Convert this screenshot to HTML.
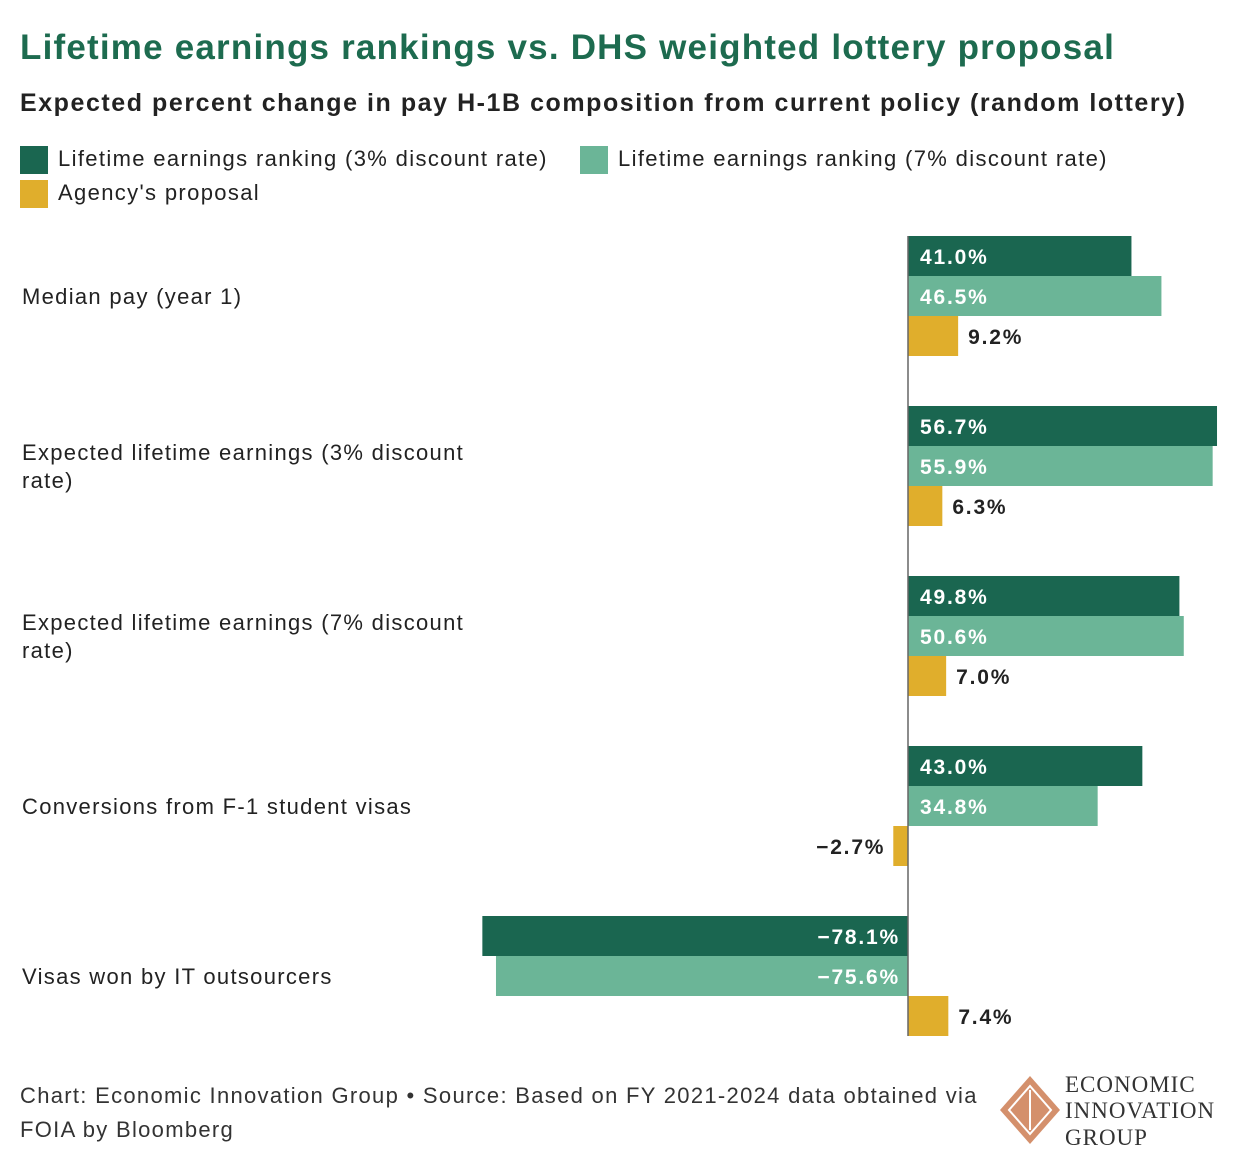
<!DOCTYPE html>
<html><head><meta charset="utf-8"><style>
body{margin:0;background:#fff;font-family:"Liberation Sans",sans-serif;color:#222}
#wrap{position:relative;width:1240px;height:1166px;overflow:hidden}
.t{position:absolute;white-space:nowrap}
</style></head><body><div id="wrap">
<div class="t" style="left:20px;top:28px;font-size:35px;font-weight:bold;color:#1d6b4f;letter-spacing:1.2px">Lifetime earnings rankings vs. DHS weighted lottery proposal</div>
<div class="t" style="left:20px;top:89px;font-size:25px;font-weight:bold;color:#222;letter-spacing:1.55px">Expected percent change in pay H-1B composition from current policy (random lottery)</div>
<div style="letter-spacing:1.35px">
<div class="t" style="left:20px;top:146px;font-size:22px"><span style="display:inline-block;width:28px;height:28px;background:#1a6650;vertical-align:middle;margin-right:10px"></span>Lifetime earnings ranking (3% discount rate)</div>
<div class="t" style="left:580px;top:146px;font-size:22px"><span style="display:inline-block;width:28px;height:28px;background:#6bb597;vertical-align:middle;margin-right:10px"></span>Lifetime earnings ranking (7% discount rate)</div>
<div class="t" style="left:20px;top:180px;font-size:22px"><span style="display:inline-block;width:28px;height:28px;background:#e0ae2c;vertical-align:middle;margin-right:10px"></span>Agency's proposal</div>
</div>
<svg id="plot" width="1240" height="1166" style="position:absolute;left:0;top:0"></svg>
<div class="t" style="left:20px;top:1079px;font-size:22px;line-height:34px;color:#333;letter-spacing:1.3px">Chart: Economic Innovation Group • Source: Based on FY 2021-2024 data obtained via<br>FOIA by Bloomberg</div>
<svg width="240" height="90" style="position:absolute;left:995px;top:1068px">
<polygon points="35,8 65,42 35,76 5,42" fill="#d4906c"/>
<polygon points="35,18 56,42 35,66 14,42" fill="none" stroke="#fff" stroke-width="2"/>
<line x1="35" y1="22" x2="35" y2="62" stroke="#fff" stroke-width="2"/>
<text x="70" y="24" font-family="Liberation Serif,serif" font-size="23" fill="#333" letter-spacing="1">ECONOMIC</text>
<text x="70" y="50" font-family="Liberation Serif,serif" font-size="23" fill="#333" letter-spacing="1">INNOVATION</text>
<text x="70" y="77" font-family="Liberation Serif,serif" font-size="23" fill="#333" letter-spacing="1">GROUP</text>
</svg>
</div>
<script>
const categories=[["Median pay (year 1)"],["Expected lifetime earnings (3% discount","rate)"],["Expected lifetime earnings (7% discount","rate)"],["Conversions from F-1 student visas"],["Visas won by IT outsourcers"]];
const rank3=[41.0,56.7,49.8,43.0,-78.1];
const rank7=[46.5,55.9,50.6,34.8,-75.6];
const agency=[9.2,6.3,7.0,-2.7,7.4];
const seriesNames=["rank3","rank7","agency"];
const NS="http://www.w3.org/2000/svg";
const svg=document.getElementById('plot');
const x0=908,scale=5.45;
function xs(v){return x0+v*scale;}
const groupTop=236,groupStep=170,barH=40;
const colors=["#1a6650","#6bb597","#e0ae2c"];
const series=[rank3,rank7,agency];
categories.forEach((cat,i)=>{
  const gy=groupTop+i*groupStep;
  const t=document.createElementNS(NS,'text');
  
  
  t.setAttribute('font-size','22');t.setAttribute('fill','#222');
  t.setAttribute('letter-spacing','1.3');
  t.setAttribute('font-family','Liberation Sans, sans-serif');
  const midY=gy+60+8-(cat.length-1)*14;
  cat.forEach((line,k)=>{const ts=document.createElementNS(NS,'tspan');ts.setAttribute('x',22);ts.setAttribute('y',midY+k*28);ts.textContent=line;t.appendChild(ts);});
  svg.appendChild(t);
  series.forEach((s,j)=>{
    const v=s[i];const y=gy+j*barH;
    const a=xs(0),b=xs(v);
    const r=document.createElementNS(NS,'rect');
    
    
    r.setAttribute('x',Math.min(a,b));r.setAttribute('y',y);
    r.setAttribute('width',Math.abs(b-a));r.setAttribute('height',barH);
    r.setAttribute('fill',colors[j]);svg.appendChild(r);
    const lab=document.createElementNS(NS,'text');
    
    
    lab.setAttribute('font-size','21');lab.setAttribute('font-weight','bold');
    lab.setAttribute('letter-spacing','1.8');
    lab.setAttribute('font-family','Liberation Sans, sans-serif');
    lab.setAttribute('y',y+28);
    const txt=(v<0?'\u2212':'')+Math.abs(v).toFixed(1)+'%';
    lab.textContent=txt;
    if(j<2){lab.setAttribute('fill','#fff');
      if(v>=0){lab.setAttribute('x',a+12);}else{lab.setAttribute('x',a-8);lab.setAttribute('text-anchor','end');}
    }else{lab.setAttribute('fill','#222');
      if(v>=0){lab.setAttribute('x',b+10);}else{lab.setAttribute('x',b-8);lab.setAttribute('text-anchor','end');}
    }
    svg.appendChild(lab);
  });
});
const ax=document.createElementNS(NS,'line');


ax.setAttribute('x1',x0);ax.setAttribute('x2',x0);ax.setAttribute('y1',236);ax.setAttribute('y2',1036);
ax.setAttribute('stroke','#666');ax.setAttribute('stroke-width','1.5');svg.appendChild(ax);
</script>
</body></html>
